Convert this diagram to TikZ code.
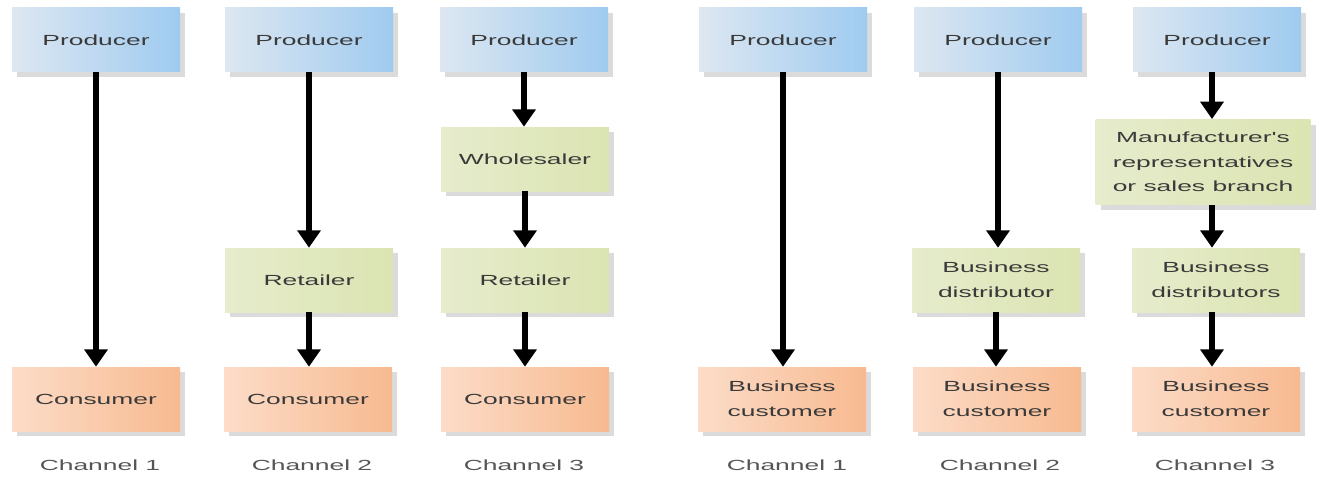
\documentclass[tikz,border=0pt]{standalone}
\usepackage{fontspec}
\usetikzlibrary{arrows.meta,shadows}
\newfontfamily\boxfont[FakeStretch=1.8]{Liberation Sans}
\definecolor{prodL}{HTML}{DDE7F1}
\definecolor{prodR}{HTML}{9FCBF0}
\definecolor{midL}{HTML}{E6ECCC}
\definecolor{midR}{HTML}{DBE4B2}
\definecolor{endL}{HTML}{FCDCC8}
\definecolor{endR}{HTML}{F7BA90}
\definecolor{txt}{HTML}{3A3A3A}
\definecolor{lbl}{HTML}{555555}
\tikzset{
  basebox/.style={minimum width=126pt, minimum height=48pt, inner sep=2pt, align=center,
    font=\boxfont\fontsize{11}{18.5}\selectfont, text=txt,
    drop shadow={opacity=0.28, shadow xshift=4pt, shadow yshift=-4pt}},
  prodbox/.style={basebox, left color=prodL, right color=prodR},
  midbox/.style={basebox, left color=midL, right color=midR},
  endbox/.style={basebox, left color=endL, right color=endR},
  flow/.style={line width=4.5pt, -{Triangle[width=17pt,length=13pt]}, black},
  chlabel/.style={font=\boxfont\fontsize{11}{13}\selectfont, text=lbl}
}
\begin{document}
\begin{tikzpicture}[x=0.75pt,y=-0.75pt]
\useasboundingbox[fill=white] (0,0) rectangle (1332,485);
% column 1
\node[prodbox] (p1) at (96,40) {Producer};
\node[endbox]  (c1) at (96,399) {Consumer};
\node[chlabel] (l1) at (100,465) {Channel 1};
% column 2
\node[prodbox] (p2) at (309,40) {Producer};
\node[midbox]  (r2) at (309,280) {Retailer};
\node[endbox]  (c2) at (308,399) {Consumer};
\node[chlabel] (l2) at (312,465) {Channel 2};
% column 3
\node[prodbox] (p3) at (524,40) {Producer};
\node[midbox]  (w3) at (525,159) {Wholesaler};
\node[midbox]  (r3) at (525,280) {Retailer};
\node[endbox]  (c3) at (525,399) {Consumer};
\node[chlabel] (l3) at (524,465) {Channel 3};
% column 4
\node[prodbox] (p4) at (783,40) {Producer};
\node[endbox]  (c4) at (782,399) {Business\\customer};
\node[chlabel] (l4) at (787,465) {Channel 1};
% column 5
\node[prodbox] (p5) at (998,40) {Producer};
\node[midbox]  (d5) at (996,280) {Business\\distributor};
\node[endbox]  (c5) at (997,399) {Business\\customer};
\node[chlabel] (l5) at (1000,465) {Channel 2};
% column 6
\node[prodbox] (p6) at (1217,40) {Producer};
\node[midbox, minimum width=161pt, minimum height=64pt] (m6) at (1203,162) {Manufacturer's\\representatives\\or sales branch};
\node[midbox]  (d6) at (1216,280) {Business\\distributors};
\node[endbox]  (c6) at (1216,399) {Business\\customer};
\node[chlabel] (l6) at (1215,465) {Channel 3};
% arrows
\draw[flow] (p1.south) -- (c1.north);
\draw[flow] (p2.south) -- (r2.north);
\draw[flow] (r2.south) -- (c2.north -| r2.south);
\draw[flow] (p3.south) -- (w3.north -| p3.south);
\draw[flow] (w3.south) -- (r3.north);
\draw[flow] (r3.south) -- (c3.north);
\draw[flow] (p4.south) -- (c4.north -| p4.south);
\draw[flow] (p5.south) -- (d5.north -| p5.south);
\draw[flow] (d5.south) -- (c5.north -| d5.south);
\draw[flow] (p6.south -| 1212,0) -- (m6.north -| 1212,0);
\draw[flow] (m6.south -| 1212,0) -- (d6.north -| 1212,0);
\draw[flow] (d6.south -| 1212,0) -- (c6.north -| 1212,0);
\end{tikzpicture}
\end{document}
